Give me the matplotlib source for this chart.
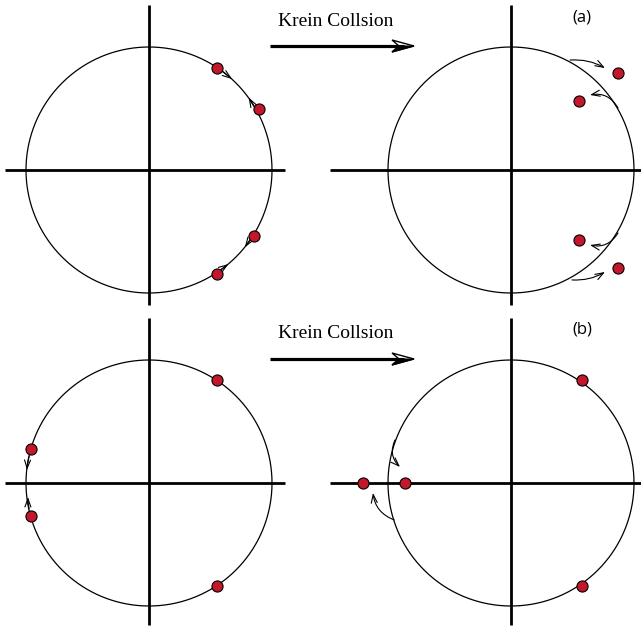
import numpy as np
import matplotlib
matplotlib.use("Agg")
import matplotlib.pyplot as plt
from matplotlib.patches import FancyArrowPatch, Polygon
from matplotlib.lines import Line2D

# ---------------- data (complex-plane coordinates, unit circle radius 1) ----------------
# eigenvalue positions (re, im) for each panel
tl_re = [0.553, 0.894, 0.854, 0.553]
tl_im = [0.829, 0.496, -0.537, -0.846]
tr_re = [0.870, 0.553, 0.553, 0.870]
tr_im = [0.789, 0.561, -0.569, -0.797]
bl_re = [0.553, -0.959, -0.959, 0.553]
bl_im = [0.837, 0.276, -0.268, -0.837]
br_re = [0.577, -1.203, -0.862, 0.577]
br_im = [0.837, 0.0, 0.0, -0.837]

# arrows: (start_re, start_im, end_re, end_im, curvature)
tl_arrows = [(0.595, 0.804, 0.675, 0.740, 0.02),
             (0.877, 0.481, 0.810, 0.590, -0.02),
             (0.836, -0.549, 0.780, -0.628, 0.02),
             (0.590, -0.807, 0.645, -0.765, -0.02)]
tr_arrows = [(0.480, 0.894, 0.764, 0.829, -0.15),
             (0.870, 0.504, 0.642, 0.610, 0.35),
             (0.870, -0.512, 0.642, -0.610, -0.35),
             (0.496, -0.894, 0.764, -0.829, 0.15)]
bl_arrows = [(-0.975, 0.215, -0.992, 0.106, 0.05),
             (-0.975, -0.210, -0.984, -0.114, -0.05)]
br_arrows = [(-0.943, 0.350, -0.902, 0.130, 0.35),
             (-0.950, -0.300, -1.122, -0.081, -0.3)]

# axis line extents per panel (x_min, x_max, y_min, y_max) in circle units
tl_axes = (-1.171, 1.106, -1.098, 1.341)
tr_axes = (-1.472, 1.057, -1.098, 1.341)
bl_axes = (-1.171, 1.106, -1.154, 1.341)
br_axes = (-1.472, 1.057, -1.154, 1.341)

title_text = "Krein Collsion"
labels = ["(a)", "(b)"]

# ---------------- layout ----------------
W, H = 641, 627
R = 123.0  # pixels per unit
centers = [(149, 170), (511, 170), (149, 483), (511, 483)]
marker_color = "#c3172b"

fig = plt.figure(figsize=(W / 100, H / 100), dpi=100)

panels = [
    (tl_re, tl_im, tl_arrows, tl_axes),
    (tr_re, tr_im, tr_arrows, tr_axes),
    (bl_re, bl_im, bl_arrows, bl_axes),
    (br_re, br_im, br_arrows, br_axes),
]

theta = np.linspace(0, 2 * np.pi, 721)
for (cx, cy), (re, im, arrows, ext) in zip(centers, panels):
    ax = fig.add_axes([0, 0, 1, 1])
    ax.set_xlim((0 - cx) / R, (W - cx) / R)
    ax.set_ylim((cy - H) / R, cy / R)
    ax.set_aspect("equal")
    ax.axis("off")
    ax.patch.set_alpha(0)
    x0, x1, y0, y1 = ext
    ax.plot([x0, x1], [0, 0], color="black", lw=2.0, solid_capstyle="butt", zorder=2)
    ax.plot([0, 0], [y0, y1], color="black", lw=2.0, solid_capstyle="butt", zorder=2)
    ax.plot(np.cos(theta), np.sin(theta), color="black", lw=0.9, zorder=3)
    for sx, sy, ex, ey, rad in arrows:
        ar = FancyArrowPatch((sx, sy), (ex, ey),
                             connectionstyle=f"arc3,rad={rad}",
                             arrowstyle="->,head_length=0.5,head_width=0.18",
                             color="black", lw=0.8, shrinkA=0, shrinkB=0,
                             mutation_scale=12, zorder=4)
        ax.add_patch(ar)
    ax.plot(re, im, "o", ms=8, mfc=marker_color, mec="black", mew=0.8,
            linestyle="none", zorder=5)

# ---------------- big "Krein Collsion" arrows ----------------
for ytxt, yarr in [(21, 46), (334, 359)]:
    fig.text(336 / W, 1 - ytxt / H, title_text, ha="center", va="center",
             fontsize=14, family="Liberation Serif")
    yf = 1 - yarr / H
    fig.add_artist(Line2D([270 / W, 404 / W], [yf, yf], transform=fig.transFigure,
                          color="black", lw=2.3, solid_capstyle="butt"))
    # open stealth-like arrowhead (pixel offsets converted to figure fraction)
    tip = (414, yarr)
    head = [(414, yarr), (392, yarr - 6), (399, yarr), (392, yarr + 6)]
    pts = [(px / W, 1 - py / H) for px, py in head]
    fig.add_artist(Polygon(pts, closed=True, transform=fig.transFigure,
                           facecolor="white", edgecolor="black", lw=1.0))
    low = [(414, yarr), (399, yarr), (392, yarr + 6)]
    fig.add_artist(Polygon([(px / W, 1 - py / H) for px, py in low], closed=True,
                           transform=fig.transFigure, facecolor="black",
                           edgecolor="black", lw=0.8))

fig.text(582 / W, 1 - 17 / H, labels[0], ha="center", va="center",
         fontsize=12, family="Open Sans")
fig.text(582 / W, 1 - 329 / H, labels[1], ha="center", va="center",
         fontsize=12, family="Open Sans")

fig.savefig("out.png", dpi=100, facecolor="white")
